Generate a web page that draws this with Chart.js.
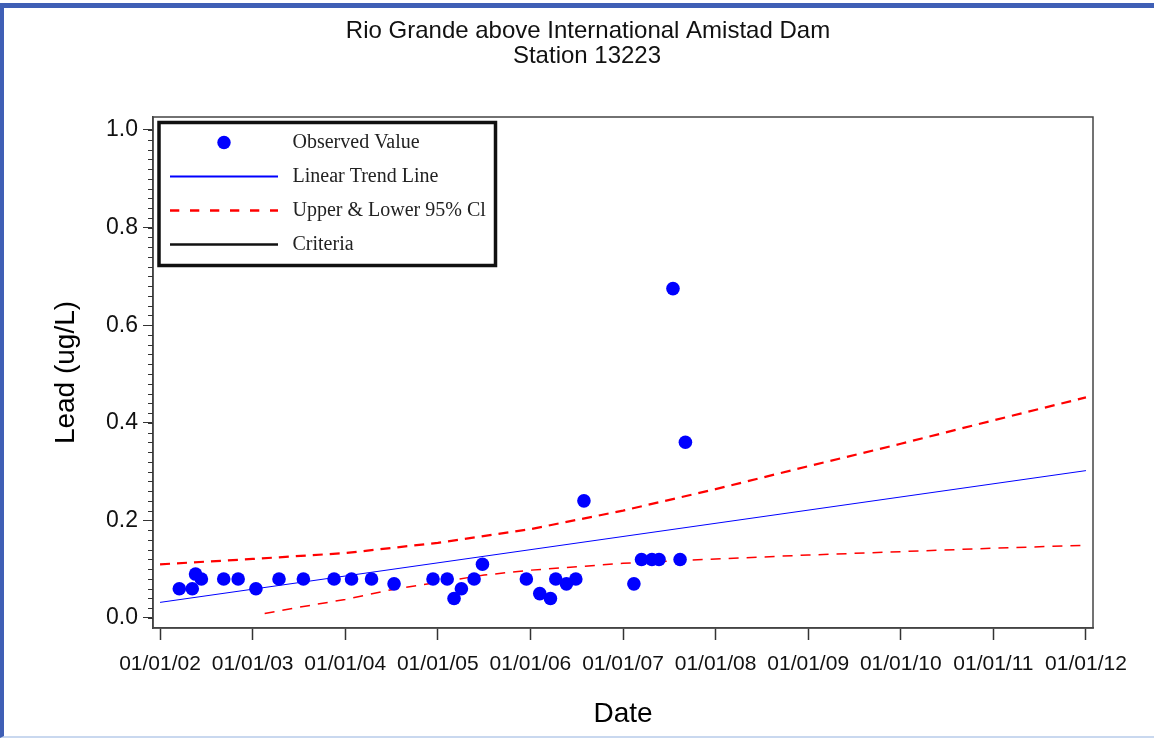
<!DOCTYPE html>
<html>
<head>
<meta charset="utf-8">
<title>Rio Grande above International Amistad Dam</title>
<script src="https://cdn.jsdelivr.net/npm/chart.js@4.4.1/dist/chart.umd.min.js"></script>
<style>
  html, body { margin: 0; padding: 0; background: #fff; }
  body { width: 1154px; height: 739px; position: relative; overflow: hidden; }
  #frame {
    position: absolute; left: 0; top: 3px; width: 1150px; height: 728px;
    border-top: 5px solid #3f5fb5; border-left: 4px solid #3f5fb5; border-bottom: 2px solid #c9d8ef;
  }
  #chart { position: absolute; left: 0; top: 0; }
</style>
</head>
<body>
<div id="frame"></div>
<canvas id="chart" width="1154" height="739"></canvas>
<script>
// ---- data ----
const titleLines = ['Rio Grande above International Amistad Dam', 'Station 13223'];

const obsDates = [
  '2002-03-18', '2002-05-08', '2002-05-21', '2002-06-13', '2002-09-09', '2002-11-05',
  '2003-01-14', '2003-04-15', '2003-07-20', '2003-11-18',
  '2004-01-26', '2004-04-14', '2004-07-12', '2004-12-13',
  '2005-02-07', '2005-03-06', '2005-04-04', '2005-05-24', '2005-06-26', '2005-12-16',
  '2006-02-07', '2006-03-21', '2006-04-11', '2006-05-23', '2006-06-29', '2006-07-31',
  '2007-02-13', '2007-03-15', '2007-04-25', '2007-05-23', '2007-07-17', '2007-08-14', '2007-09-04'
];
const obsLead = [
  0.06, 0.06, 0.09, 0.08, 0.08, 0.08,
  0.06, 0.08, 0.08, 0.08,
  0.08, 0.08, 0.07, 0.08,
  0.08, 0.04, 0.06, 0.08, 0.11, 0.08,
  0.05, 0.04, 0.08, 0.07, 0.08, 0.24,
  0.07, 0.12, 0.12, 0.12, 0.675, 0.12, 0.36
];

const trendYears = [2002, 2012];
const trendLead = [0.032, 0.302];

const upperYears = [2002, 2003, 2004, 2005, 2006, 2007, 2008, 2009, 2010, 2011, 2012];
const upperLead = [0.110, 0.121, 0.133, 0.154, 0.182, 0.220, 0.264, 0.311, 0.357, 0.405, 0.452];

const lowerYears = [2003.13, 2003.5, 2004, 2004.5, 2005, 2005.5, 2006, 2006.5, 2007, 2008, 2009, 2010, 2011, 2012];
const lowerLead = [0.009, 0.022, 0.038, 0.058, 0.073, 0.088, 0.098, 0.105, 0.112, 0.121, 0.129, 0.136, 0.143, 0.149];

const xTickYears = [2002, 2003, 2004, 2005, 2006, 2007, 2008, 2009, 2010, 2011, 2012];
const yTickValues = [0, 0.2, 0.4, 0.6, 0.8, 1.0];
const yMinorStep = 0.02;

// date string -> fractional year
function toYear(s) {
  const [y, m, d] = s.split('-').map(Number);
  const start = Date.UTC(y, 0, 1), end = Date.UTC(y + 1, 0, 1);
  return y + (Date.UTC(y, m - 1, d) - start) / (end - start);
}
const pairs = (xs, ys) => xs.map((x, i) => ({ x, y: ys[i] }));

const SANS = '"Liberation Sans", Arial, sans-serif';
const SERIF = '"Liberation Serif", "Times New Roman", serif';

// frame, minor ticks, titles and the boxed legend
const decorations = {
  id: 'decorations',
  afterDraw(chart) {
    const { ctx, chartArea: a, scales: { y } } = chart;
    ctx.save();

    // plot frame
    ctx.strokeStyle = '#444';
    ctx.lineWidth = 1.5;
    ctx.strokeRect(a.left, a.top, a.right - a.left, a.bottom - a.top);

    // minor y ticks
    ctx.lineWidth = 1;
    ctx.strokeStyle = '#333';
    for (let v = 0; v <= 1.0001; v += yMinorStep) {
      const py = Math.round(y.getPixelForValue(v)) + 0.5;
      ctx.beginPath();
      ctx.moveTo(a.left - 5, py);
      ctx.lineTo(a.left, py);
      ctx.stroke();
    }

    // titles
    ctx.fillStyle = '#111';
    ctx.textAlign = 'center';
    ctx.textBaseline = 'middle';
    ctx.font = '24px ' + SANS;
    ctx.fillText(titleLines[0], 588, 31);
    ctx.fillText(titleLines[1], 587, 56);

    // legend
    const bx = a.left + 6, by = a.top + 5.5, bw = 336.5, bh = 143;
    ctx.fillStyle = '#fff';
    ctx.fillRect(bx, by, bw, bh);
    ctx.strokeStyle = '#111';
    ctx.lineWidth = 3.5;
    ctx.strokeRect(bx, by, bw, bh);

    const rows = chart.data.datasets.filter(d => d.legendRow !== undefined);
    rows.forEach(ds => {
      const ry = by + 20 + ds.legendRow * 34;
      ctx.save();
      if (ds.showLine === false) {
        ctx.fillStyle = ds.backgroundColor;
        ctx.beginPath();
        ctx.arc(bx + 65, ry, 6.7, 0, Math.PI * 2);
        ctx.fill();
      } else {
        ctx.strokeStyle = ds.borderColor;
        ctx.lineWidth = ds.legendWidth;
        ctx.setLineDash(ds.legendDash || []);
        ctx.beginPath();
        ctx.moveTo(bx + 11, ry);
        ctx.lineTo(bx + 119, ry);
        ctx.stroke();
      }
      ctx.restore();
      ctx.fillStyle = '#222';
      ctx.textAlign = 'left';
      ctx.textBaseline = 'middle';
      ctx.font = '20px ' + SERIF;
      ctx.fillText(ds.label, bx + 133.5, ry);
    });

    ctx.restore();
  }
};

new Chart(document.getElementById('chart'), {
  type: 'scatter',
  data: {
    datasets: [
      {
        label: 'Observed Value',
        data: pairs(obsDates.map(toYear), obsLead),
        showLine: false,
        pointRadius: 6.8,
        pointBorderWidth: 0,
        backgroundColor: '#0000ff',
        legendRow: 0
      },
      {
        label: 'Linear Trend Line',
        data: pairs(trendYears, trendLead),
        showLine: true,
        pointRadius: 0,
        borderColor: '#0000ff',
        borderWidth: 1,
        legendRow: 1,
        legendWidth: 2
      },
      {
        label: 'Upper & Lower 95% Cl',
        data: pairs(upperYears, upperLead),
        showLine: true,
        pointRadius: 0,
        borderColor: '#ff0000',
        borderWidth: 2.2,
        borderDash: [10, 7],
        legendRow: 2,
        legendWidth: 2.7,
        legendDash: [9.3, 10.7]
      },
      {
        label: 'Lower 95% Cl',
        data: pairs(lowerYears, lowerLead),
        showLine: true,
        pointRadius: 0,
        borderColor: '#ff0000',
        borderWidth: 1.5,
        borderDash: [10, 8]
      },
      {
        label: 'Criteria',
        data: [],
        showLine: true,
        pointRadius: 0,
        borderColor: '#111',
        borderWidth: 2,
        legendRow: 3,
        legendWidth: 2.5
      }
    ]
  },
  options: {
    responsive: false,
    animation: false,
    devicePixelRatio: 1,
    layout: { padding: { left: 0, top: 117, right: 61, bottom: 0 } },
    plugins: {
      legend: { display: false },
      title: { display: false },
      tooltip: { enabled: false }
    },
    scales: {
      x: {
        type: 'linear',
        min: 2001.924,
        max: 2012.076,
        afterFit(s) { s.height = 111; },
        afterBuildTicks(s) { s.ticks = xTickYears.map(v => ({ value: v })); },
        ticks: {
          callback: v => '01/01/' + String(Math.round(v) % 100).padStart(2, '0'),
          font: { family: SANS, size: 21 },
          color: '#111',
          padding: 12,
          maxRotation: 0,
          autoSkip: false
        },
        grid: { drawOnChartArea: false, tickLength: 12, tickColor: '#333', tickWidth: 1.5 },
        border: { display: true, color: '#444', width: 1.5 },
        title: {
          display: true,
          text: 'Date',
          font: { family: SANS, size: 28 },
          color: '#000',
          padding: { top: 0, bottom: 8 }
        }
      },
      y: {
        min: -0.0205,
        max: 1.0266,
        afterFit(s) { s.width = 153; },
        afterBuildTicks(s) { s.ticks = yTickValues.map(v => ({ value: v })); },
        ticks: {
          callback: v => v.toFixed(1),
          font: { family: SANS, size: 23 },
          color: '#111',
          padding: 5
        },
        grid: { drawOnChartArea: false, tickLength: 10, tickColor: '#333', tickWidth: 1 },
        border: { display: true, color: '#444', width: 1.5 },
        title: {
          display: true,
          text: 'Lead (ug/L)',
          font: { family: SANS, size: 28 },
          color: '#000',
          padding: { top: 49, bottom: 0 }
        }
      }
    }
  },
  plugins: [decorations]
});
</script>
</body>
</html>
